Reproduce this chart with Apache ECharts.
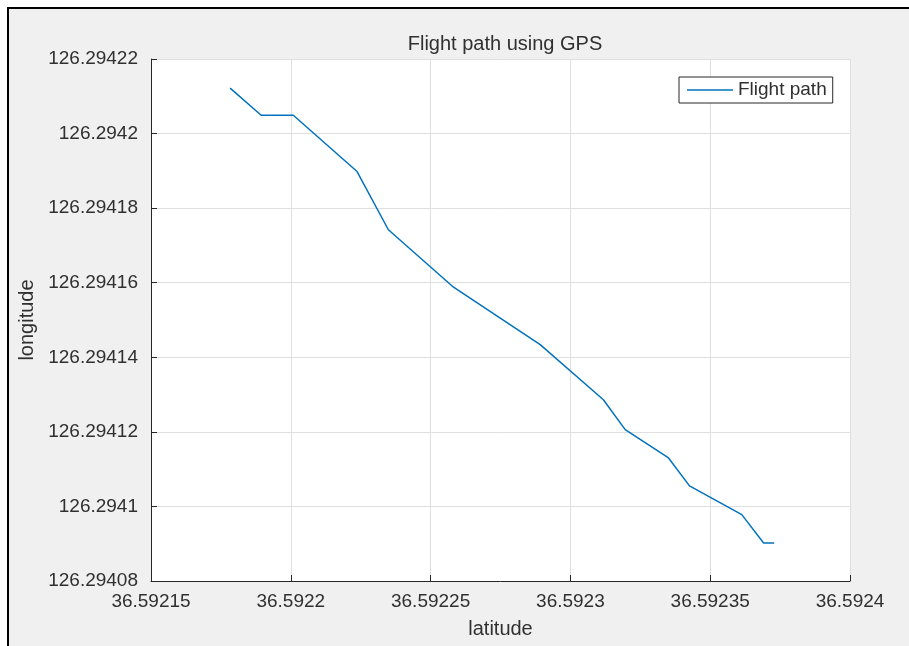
<!DOCTYPE html>
<html>
<head>
<meta charset="utf-8">
<script src="https://cdn.jsdelivr.net/npm/echarts@6/dist/echarts.min.js"></script>
<style>
html,body{margin:0;padding:0;background:#fff;}
#frame{position:absolute;left:7px;top:7px;width:1000px;height:800px;border-left:2px solid #000;border-top:2px solid #000;background:#f0f0f0;}
#chart{position:absolute;left:0;top:0;width:909px;height:646px;}
</style>
</head>
<body>
<div id="frame"></div>
<div id="chart"></div>
<script>
// latitude (x) values of the flight path
const latitude = [
  36.5921783, 36.5921894, 36.5922009, 36.5922236, 36.5922349, 36.5922582,
  36.5922892, 36.5923118, 36.5923196, 36.5923351, 36.5923426, 36.5923613,
  36.5923691, 36.5923729
];
// longitude (y) values of the flight path
const longitude = [
  126.2942122, 126.2942049, 126.2942049, 126.2941899, 126.2941742, 126.2941588,
  126.2941434, 126.2941286, 126.2941206, 126.2941130, 126.2941055, 126.2940978,
  126.2940902, 126.2940902
];
const seriesName = 'Flight path';
const titleText = 'Flight path using GPS';
const xName = 'latitude';
const yName = 'longitude';
const xTicks = [36.59215, 36.5922, 36.59225, 36.5923, 36.59235, 36.5924];
const yTicks = [126.29408, 126.2941, 126.29412, 126.29414, 126.29416, 126.29418, 126.2942, 126.29422];

const points = latitude.map((x, i) => [x, longitude[i]]);
const fmt = v => v.toFixed(6).replace(/0+$/, '').replace(/\.$/, '');

const chart = echarts.init(document.getElementById('chart'), null, {renderer: 'canvas'});
const textColor = '#303030';
const fontFamily = '"Liberation Sans", Arial, Helvetica, sans-serif';
chart.setOption({
  backgroundColor: 'transparent',
  animation: false,
  textStyle: {fontFamily: fontFamily},
  title: {
    text: titleText,
    left: 500, top: 29,
    textAlign: 'center',
    textStyle: {fontSize: 20, fontWeight: 'normal', color: textColor, fontFamily: fontFamily}
  },
  legend: {
    data: [{name: seriesName, icon: 'rect'}],
    left: 679, top: 77,
    backgroundColor: '#fff',
    borderColor: '#262626',
    borderWidth: 1,
    padding: [3, 6, 3, 8],
    itemWidth: 46, itemHeight: 1.5,
    itemGap: 5,
    itemStyle: {color: '#0072BD'},
    textStyle: {fontSize: 19, color: textColor, fontFamily: fontFamily, lineHeight: 20}
  },
  grid: {
    left: 151, right: 59, top: 59, bottom: 65,
    show: true, backgroundColor: '#ffffff', borderWidth: 0
  },
  xAxis: {
    type: 'value',
    min: xTicks[0], max: xTicks[xTicks.length - 1],
    interval: 0.00005,
    name: xName, nameLocation: 'middle', nameGap: 38,
    nameTextStyle: {fontSize: 20, color: textColor},
    axisLine: {show: true, onZero: false, lineStyle: {color: '#262626', width: 1}},
    axisTick: {show: true, inside: true, length: 6, lineStyle: {color: '#262626'}},
    axisLabel: {fontSize: 19, color: textColor, margin: 11, formatter: fmt},
    splitLine: {show: true, lineStyle: {color: '#dfdfdf', width: 1}}
  },
  yAxis: {
    type: 'value',
    min: yTicks[0], max: yTicks[yTicks.length - 1],
    interval: 0.00002,
    name: yName, nameLocation: 'middle', nameGap: 114,
    nameTextStyle: {fontSize: 20, color: textColor},
    axisLine: {show: true, onZero: false, lineStyle: {color: '#262626', width: 1}},
    axisTick: {show: true, inside: true, length: 6, lineStyle: {color: '#262626'}},
    axisLabel: {fontSize: 19, color: textColor, margin: 13, formatter: fmt},
    splitLine: {show: true, lineStyle: {color: '#dfdfdf', width: 1}}
  },
  series: [{
    name: seriesName,
    type: 'line',
    data: points,
    symbol: 'none',
    showSymbol: false,
    lineStyle: {color: '#0072BD', width: 1.5},
    itemStyle: {color: '#0072BD'}
  }]
});
</script>
</body>
</html>
